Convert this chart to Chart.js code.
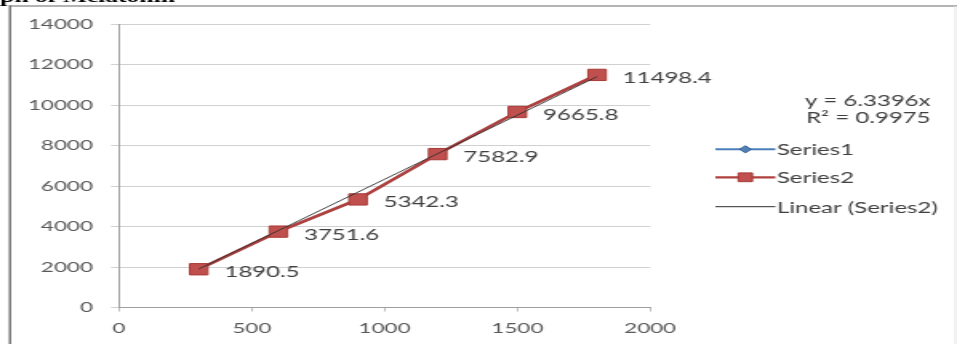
<!DOCTYPE html>
<html>
<head>
<meta charset="utf-8">
<script src="https://cdn.jsdelivr.net/npm/chart.js@4/dist/chart.umd.min.js"></script>
<style>
  html, body { margin: 0; padding: 0; background: #fff; overflow: hidden; }
  /* the chart is laid out narrow and widened sideways, like the stretched Excel export */
  #wrap { width: 598px; height: 344px; transform: scaleX(1.6003); transform-origin: 0 0; }
</style>
</head>
<body>
<div id="wrap"><canvas id="c" width="598" height="344"></canvas></div>
<script>
// Melatonin calibration data
const concentrations = [300, 600, 900, 1200, 1500, 1800];
const series1Values = [1890.5, 3751.6, 5342.3, 7582.9, 9665.8, 11498.4];
const series2Values = [1890.5, 3751.6, 5342.3, 7582.9, 9665.8, 11498.4];
const seriesNames = ['Series1', 'Series2', 'Linear (Series2)'];

// linear trend through the origin, as reported on the chart
const trendSlope = 6.3396;
const trendR2 = 0.9975;
const trendRange = [300, 1800];

// axis ticks
const xTicks = [0, 500, 1000, 1500, 2000];
const yTicks = [0, 2000, 4000, 6000, 8000, 10000, 12000, 14000];

const titleText = 'ph of Melatonin';

const FONT = 'Lato, "Open Sans", sans-serif';
const TEXT = '#404040';
const TICK_TEXT = '#595959';
const BLUE = '#4a7ebb';
const RED = '#b0403d';
const RED_FILL = '#c0504d';

const toPoints = (xs, ys) => xs.map((x, i) => ({ x: x, y: ys[i] }));

const framePlugin = {
  id: 'frame',
  beforeDraw(chart) {
    const ctx = chart.ctx;
    ctx.save();
    ctx.fillStyle = '#fff';
    ctx.fillRect(0, 0, chart.width, chart.height);
    // outer chart border
    ctx.strokeStyle = '#9a9a9a';
    ctx.lineWidth = 1.5;
    ctx.beginPath();
    ctx.moveTo(6, 6);
    ctx.lineTo(chart.width, 6);
    ctx.stroke();
    ctx.strokeStyle = '#6e6e6e';
    ctx.lineWidth = 1.4;
    ctx.beginPath();
    ctx.moveTo(6.2, 5.3);
    ctx.lineTo(6.2, chart.height);
    ctx.stroke();
    ctx.strokeStyle = '#e4e4e4';
    ctx.lineWidth = 1;
    ctx.beginPath();
    ctx.moveTo(597, 6);
    ctx.lineTo(597, chart.height);
    ctx.stroke();
    // heading above the chart box
    ctx.fillStyle = '#000';
    ctx.font = 'bold 16px "Liberation Serif", serif';
    ctx.textAlign = 'left';
    ctx.textBaseline = 'alphabetic';
    ctx.fillText(titleText, 0, 1.8);
    ctx.restore();
  }
};

const valueLabelPlugin = {
  id: 'valueLabels',
  afterDatasetsDraw(chart) {
    const ctx = chart.ctx;
    const meta = chart.getDatasetMeta(1);
    ctx.save();
    ctx.font = '15px ' + FONT;
    ctx.fillStyle = TEXT;
    ctx.textAlign = 'left';
    ctx.textBaseline = 'middle';
    meta.data.forEach((pt, i) => {
      ctx.fillText(String(series2Values[i]), pt.x + 16, pt.y + 3.2);
    });
    ctx.restore();
  }
};

const legendPlugin = {
  id: 'sideLegend',
  afterDraw(chart) {
    const ctx = chart.ctx;
    const ds = chart.data.datasets;
    ctx.save();
    ctx.font = '15px ' + FONT;
    ctx.fillStyle = TEXT;
    ctx.textAlign = 'right';
    ctx.textBaseline = 'middle';
    ctx.fillText('y = ' + trendSlope + 'x', 581.5, 101.5);
    ctx.fillText('R\u00B2 = ' + trendR2, 581.5, 118.5);

    const rows = [149.3, 177.3, 206.7];
    const x0 = 447, x1 = 484.5, xm = (x0 + x1) / 2;
    ctx.textAlign = 'left';
    ds.forEach((d, i) => {
      const y = rows[i];
      ctx.strokeStyle = d.borderColor;
      ctx.lineWidth = i === 2 ? 1 : (i === 0 ? 2 : 2.2);
      ctx.beginPath();
      ctx.moveTo(x0, y);
      ctx.lineTo(x1, y);
      ctx.stroke();
      if (i < 2) {
        ctx.fillStyle = d.pointBackgroundColor;
        ctx.strokeStyle = d.pointBorderColor;
        ctx.lineWidth = 1;
        Chart.helpers.drawPoint(ctx, {
          pointStyle: d.pointStyle,
          radius: i === 0 ? 3.6 : 6.2,
          rotation: 0,
          borderWidth: 1
        }, xm, y);
      }
      ctx.fillStyle = TEXT;
      ctx.fillText(d.label, 485.5, y + 1);
    });
    ctx.restore();
  }
};

const plainNumber = v => String(v);

new Chart(document.getElementById('c'), {
  type: 'scatter',
  data: {
    datasets: [
      {
        label: seriesNames[0],
        data: toPoints(concentrations, series1Values),
        showLine: true,
        borderColor: BLUE,
        borderWidth: 2,
        pointStyle: 'rectRot',
        pointRadius: 5,
        pointBackgroundColor: '#4f81bd',
        pointBorderColor: '#385d8a',
        pointBorderWidth: 1,
        order: 3
      },
      {
        label: seriesNames[1],
        data: toPoints(concentrations, series2Values),
        showLine: true,
        borderColor: RED,
        borderWidth: 2.6,
        pointStyle: 'rect',
        pointRadius: 8,
        pointBackgroundColor: RED_FILL,
        pointBorderColor: '#a83a37',
        pointBorderWidth: 1,
        order: 2
      },
      {
        label: seriesNames[2],
        data: trendRange.map(x => ({ x: x, y: trendSlope * x })),
        showLine: true,
        borderColor: '#2e2e2e',
        borderWidth: 0.9,
        pointRadius: 0,
        order: 1
      }
    ]
  },
  options: {
    responsive: false,
    devicePixelRatio: 1,
    animation: false,
    events: [],
    layout: { padding: { left: 0, top: 24.3, right: 191.75, bottom: 6.5 } },
    plugins: { legend: { display: false }, tooltip: { enabled: false }, title: { display: false } },
    scales: {
      x: {
        type: 'linear',
        min: 0,
        max: 2000,
        afterBuildTicks: s => { s.ticks = xTicks.map(v => ({ value: v })); },
        afterFit: s => { s.height = 30; },
        grid: { drawOnChartArea: false, drawTicks: true, tickLength: 4, color: '#bdbdbd' },
        border: { display: true, color: '#9f9f9f', width: 1 },
        ticks: { color: TICK_TEXT, font: { family: FONT, size: 14 }, padding: 9, maxRotation: 0, callback: plainNumber }
      },
      y: {
        type: 'linear',
        min: 0,
        max: 14000,
        afterBuildTicks: s => { s.ticks = yTicks.map(v => ({ value: v })); },
        afterFit: s => { s.width = 74.4; },
        grid: { drawTicks: true, tickLength: 5, color: '#d0d0d0' },
        border: { display: true, color: '#9f9f9f', width: 1 },
        ticks: { color: TICK_TEXT, font: { family: FONT, size: 14 }, padding: 11.4, callback: plainNumber }
      }
    }
  },
  plugins: [framePlugin, valueLabelPlugin, legendPlugin]
});
</script>
</body>
</html>
